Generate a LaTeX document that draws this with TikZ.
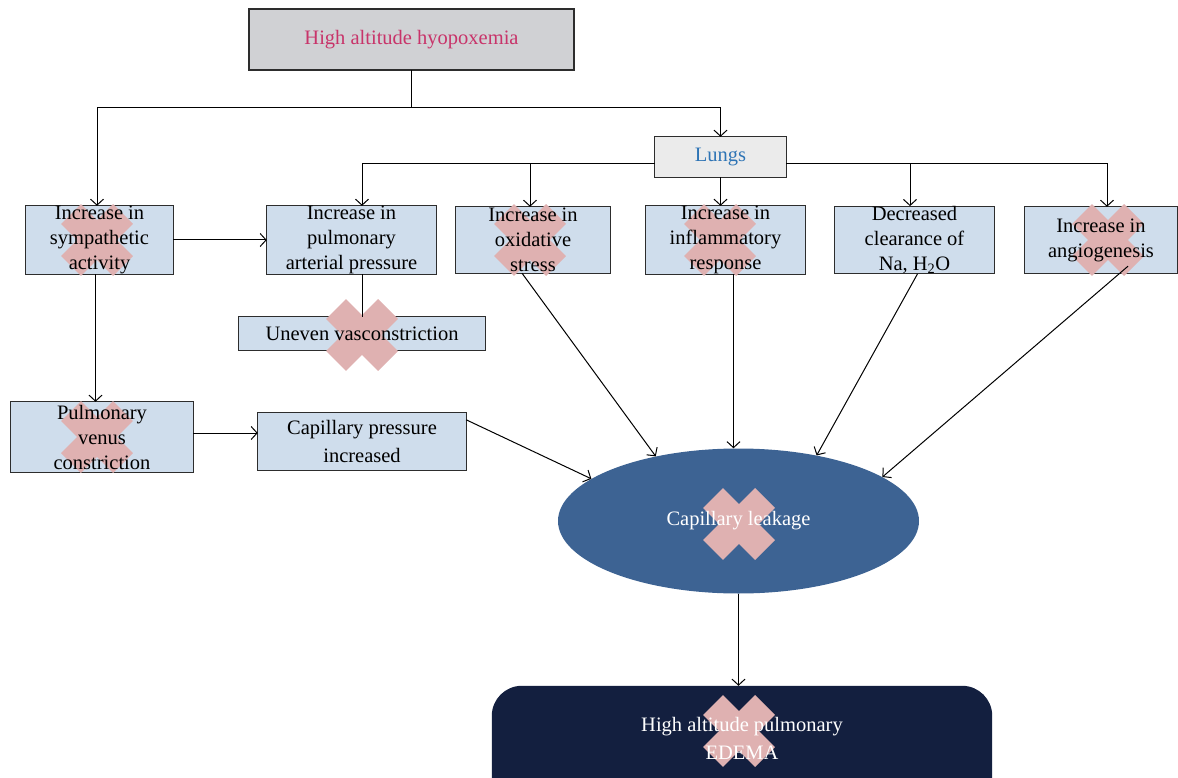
\documentclass[tikz,border=0pt]{standalone}
\usepackage{fontspec}
\setmainfont{Liberation Serif}
\usetikzlibrary{shapes.geometric,arrows.meta}
\definecolor{boxblue}{RGB}{207,221,236}
\definecolor{boxline}{RGB}{45,45,45}
\definecolor{topgray}{RGB}{208,209,212}
\definecolor{lunggray}{RGB}{235,235,235}
\definecolor{crimson}{RGB}{200,52,106}
\definecolor{lungblue}{RGB}{46,116,181}
\definecolor{leakblue}{RGB}{61,99,147}
\definecolor{edemanavy}{RGB}{19,31,63}
\definecolor{crosspink}{RGB}{223,177,177}
\pgfdeclarelayer{back}
\pgfdeclarelayer{marks}
\pgfsetlayers{back,marks,main}
\tikzset{
  cause/.style={align=center, inner sep=0pt, minimum height=66pt},
  link/.style={line width=1pt},
  arr/.style={link, -{Straight Barb[length=6pt,width=13pt]}},
  boxfill/.style={fill=boxblue, draw=boxline, line width=1.2pt},
  xmark/.style={draw=crosspink, line width=28pt},
}
\begin{document}
\begin{tikzpicture}[x=1pt, y=-1pt, font=\fontsize{20.5}{25}\selectfont]
\useasboundingbox (0,0) rectangle (1178,778);

% top and lungs
\node[inner sep=0pt, minimum width=325pt, minimum height=61pt, text=crimson] (top) at (411.5,39.5) {High altitude hyopoxemia};
\node[inner sep=0pt, minimum width=131pt, minimum height=40pt, text=lungblue] (lungs) at (720.5,157) {Lungs};

% first row
\node[cause, minimum width=147pt] (symp) at (99.5,240) {Increase in\\sympathetic\\activity};
\node[cause, minimum width=169pt] (pulmart) at (351.5,240) {Increase in\\pulmonary\\arterial pressure};
\node[cause, minimum width=154pt] (oxid) at (533,240) {Increase in\\oxidative\\stress};
\node[cause, minimum width=159pt] (inflam) at (725.5,240) {Increase in\\inflammatory\\response};
\node[cause, minimum width=159pt] (clear) at (914.5,240) {Decreased\\clearance of\\Na, H\textsubscript{2}O};
\node[cause, minimum width=152pt] (angio) at (1101,240) {Increase in\\angiogenesis};

% lower boxes
\node[cause, minimum width=246pt, minimum height=33pt] (uneven) at (362,333.5) {Uneven vasconstriction};
\node[cause, minimum width=182pt, minimum height=70pt] (venus) at (102,437) {Pulmonary\\venus\\constriction};
\node[cause, minimum width=208pt, minimum height=57pt, font=\fontsize{20.5}{28}\selectfont] (capill) at (362,441.5) {Capillary pressure\\increased};
\node[ellipse, inner sep=0pt, minimum width=361pt, minimum height=145pt, text=white] (leak) at (738.5,521) {Capillary leakage};
\node[align=center, inner sep=0pt, minimum width=500pt, minimum height=104pt, text=white, font=\fontsize{20.5}{28}\selectfont] (edema) at (742,738) {High altitude pulmonary\\EDEMA};

\begin{pgfonlayer}{back}
\draw[fill=topgray, draw=boxline, line width=1.5pt] (top.north west) rectangle (top.south east);
\draw[fill=lunggray, draw=boxline, line width=1.2pt] (lungs.north west) rectangle (lungs.south east);
\foreach \n in {symp,pulmart,oxid,inflam,clear,angio,uneven,venus,capill}
	\draw[boxfill] (\n.north west) rectangle (\n.south east);
\fill[leakblue] (leak.center) ellipse [x radius=180.5pt, y radius=72.5pt];
\fill[edemanavy, rounded corners=30pt] (edema.north west) rectangle ([yshift=-20pt]edema.south east);
\end{pgfonlayer}

\begin{pgfonlayer}{marks}
\foreach \cx/\cy in {97/240, 362/335, 530/240, 720/240, 1108/240, 97/437, 739/524, 739/731}
	\draw[xmark] ({\cx-26},{\cy-26}) -- ({\cx+26},{\cy+26}) ({\cx-26},{\cy+26}) -- ({\cx+26},{\cy-26});
\end{pgfonlayer}

% connectors
\coordinate (split) at (top.south |- 0,108);
\draw[link] (top.south) -- (split);
\draw[arr] (split) -| ([xshift=-2.5pt]symp.north);
\draw[arr] (split) -| (lungs.north);
\foreach \n/\dx in {pulmart/10.5, oxid/-3}
	\draw[arr] ([yshift=-7pt]lungs.west) -| ([xshift=\dx pt]\n.north);
\foreach \n/\dx in {clear/-4.5, angio/6}
	\draw[arr] ([yshift=-7pt]lungs.east) -| ([xshift=\dx pt]\n.north);
\draw[arr] (lungs.south) -- (lungs.south |- inflam.north);
\draw[arr] (symp.east) -- (symp.east -| pulmart.west);
\draw[link] (pulmart.south -| uneven.north) -- (uneven.north);
\draw[arr] ([xshift=-4pt]symp.south) -- ([xshift=-4pt]symp.south |- venus.north);
\draw[arr] ([yshift=4pt]venus.east) -- ([yshift=4pt]venus.east -| capill.west);

\draw[arr] ([yshift=-7pt]capill.north east) -- (leak.164);
\draw[arr] ([xshift=-11pt]oxid.south) -- (leak.142);
\draw[arr] ([xshift=8pt]inflam.south) -- ([xshift=8pt]inflam.south |- leak.north);
\draw[arr] ([xshift=3pt]clear.south) -- (leak.40);
\draw[arr] ([xshift=27pt,yshift=7pt]angio.south) -- (leak.17);
\draw[arr] (leak.south) -- (leak.south |- edema.north);
\end{tikzpicture}
\end{document}
